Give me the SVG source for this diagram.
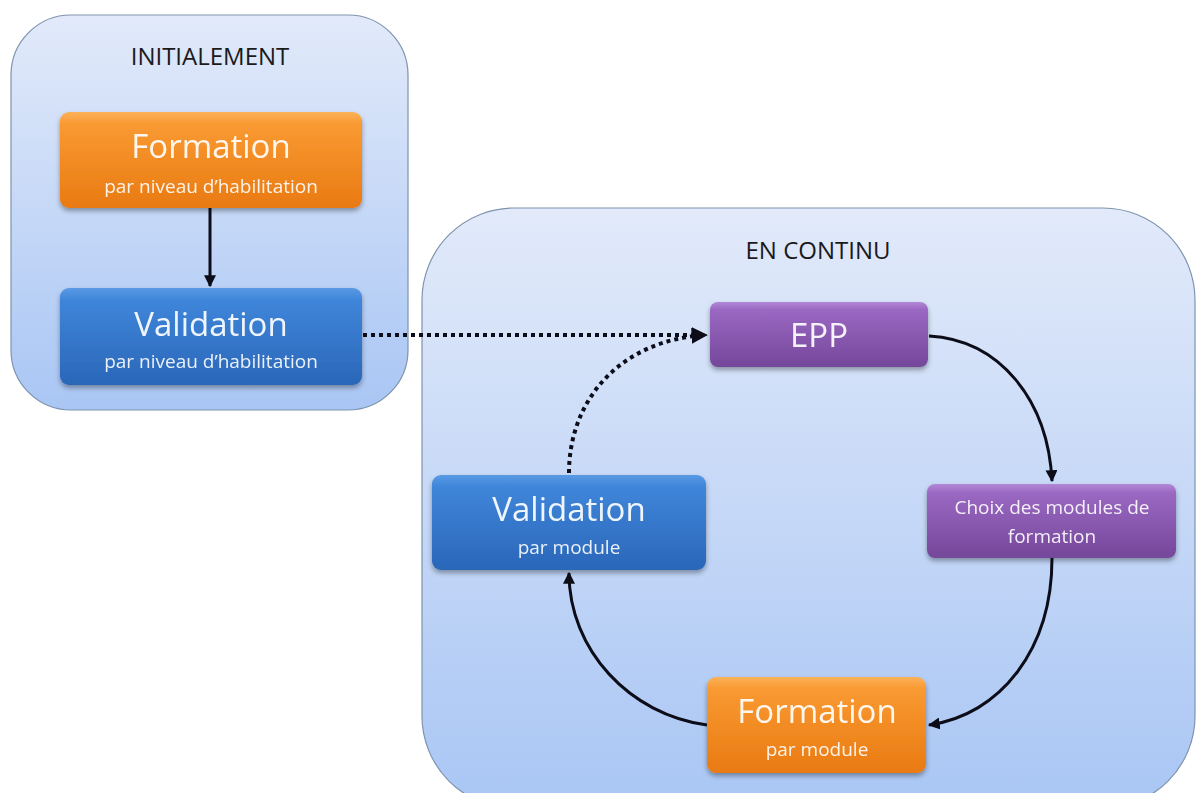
<svg xmlns="http://www.w3.org/2000/svg" width="1196" height="793" viewBox="0 0 1196 793">
<defs>
<linearGradient id="gCont" x1="0" y1="0" x2="0" y2="1">
<stop offset="0" stop-color="#e2eafa"/>
<stop offset="1" stop-color="#a9c6f4"/>
</linearGradient>
<linearGradient id="gOrange" x1="0" y1="0" x2="0" y2="1">
<stop offset="0" stop-color="#fbb25a"/>
<stop offset="0.12" stop-color="#f99a32"/>
<stop offset="1" stop-color="#e97a12"/>
</linearGradient>
<linearGradient id="gBlue" x1="0" y1="0" x2="0" y2="1">
<stop offset="0" stop-color="#5a9ae4"/>
<stop offset="0.12" stop-color="#3f86da"/>
<stop offset="1" stop-color="#2a66b8"/>
</linearGradient>
<linearGradient id="gPurple" x1="0" y1="0" x2="0" y2="1">
<stop offset="0" stop-color="#b287d6"/>
<stop offset="0.12" stop-color="#9a68c2"/>
<stop offset="1" stop-color="#74479a"/>
</linearGradient>
<filter id="sh" x="-10%" y="-10%" width="120%" height="130%">
<feDropShadow dx="0" dy="3" stdDeviation="2.5" flood-color="#000" flood-opacity="0.35"/>
</filter>
<marker id="ah" viewBox="0 0 10 10" refX="9" refY="5" markerWidth="4" markerHeight="4" orient="auto" markerUnits="strokeWidth">
<path d="M0,0 L10,5 L0,10 z" fill="#0d0d1a"/>
</marker>
<style>
.cont{fill:url(#gCont);stroke:#7f93ae;stroke-width:1.2}
.ttl{font-family:"Open Sans","Liberation Sans",sans-serif;font-size:24px;fill:#1a1a1a;text-anchor:middle}
.big{font-family:"Open Sans","Liberation Sans",sans-serif;font-size:33px;fill:#fff;text-anchor:middle;fill-opacity:0.92}
.sm{font-family:"Open Sans","Liberation Sans",sans-serif;font-size:19px;fill:#fff;text-anchor:middle;fill-opacity:0.9}
.box{filter:url(#sh)}
.ln{fill:none;stroke:#0d0d1a;stroke-width:3}
.dot{fill:none;stroke:#0d0d1a;stroke-width:4;stroke-dasharray:4 4}
</style>
</defs>

<g id="initialement">
<rect class="cont" x="11" y="15" width="397" height="395" rx="60"/>
<text class="ttl" x="210" y="65">INITIALEMENT</text>
</g>
<g id="en-continu">
<rect class="cont" x="422" y="208" width="773" height="600" rx="92"/>
<text class="ttl" x="818" y="259">EN CONTINU</text>
</g>

<g id="connectors">
<line class="ln" x1="210" y1="208" x2="210" y2="286" marker-end="url(#ah)"/>
<path class="dot" d="M363,335 L706,335" marker-end="url(#ah)"/>
<path class="dot" d="M569,473 C569,400 620,340 706,335" marker-end="url(#ah)"/>
<path class="ln" d="M929,336 C1000,340 1048,400 1052,481" marker-end="url(#ah)"/>
<path class="ln" d="M1052,558 C1052,650 1000,715 929,725" marker-end="url(#ah)"/>
<path class="ln" d="M707,725 C630,715 569,650 569,573" marker-end="url(#ah)"/>
</g>

<g id="formation-habilitation" class="box">
<rect x="60" y="112" width="302" height="96" rx="9" fill="url(#gOrange)"/>
<text class="big" x="211" y="158">Formation</text>
<text class="sm" x="211" y="193">par niveau d’habilitation</text>
</g>
<g id="validation-habilitation" class="box">
<rect x="60" y="288" width="302" height="97" rx="9" fill="url(#gBlue)"/>
<text class="big" x="211" y="336">Validation</text>
<text class="sm" x="211" y="368">par niveau d’habilitation</text>
</g>
<g id="epp" class="box">
<rect x="710" y="302" width="218" height="65" rx="8" fill="url(#gPurple)"/>
<text class="big" x="819" y="347">EPP</text>
</g>
<g id="choix" class="box">
<rect x="927" y="484" width="249" height="74" rx="8" fill="url(#gPurple)"/>
<text class="sm" x="1052" y="514">Choix des modules de</text>
<text class="sm" x="1052" y="543">formation</text>
</g>
<g id="validation-module" class="box">
<rect x="432" y="475" width="274" height="95" rx="9" fill="url(#gBlue)"/>
<text class="big" x="569" y="521">Validation</text>
<text class="sm" x="569" y="554">par module</text>
</g>
<g id="formation-module" class="box">
<rect x="707" y="677" width="219" height="96" rx="9" fill="url(#gOrange)"/>
<text class="big" x="817" y="723">Formation</text>
<text class="sm" x="817" y="756">par module</text>
</g>
</svg>
